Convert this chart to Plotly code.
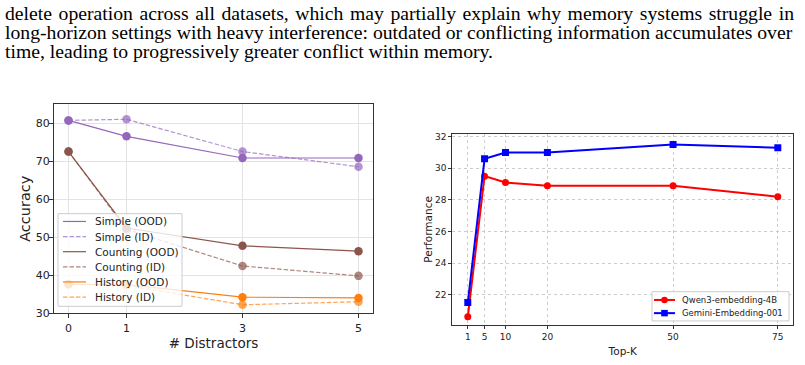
import plotly.graph_objects as go

# ---------------- data ----------------
paragraph_lines = [
    "delete operation across all datasets, which may partially explain why memory systems struggle in",
    "long-horizon settings with heavy interference: outdated or conflicting information accumulates over",
    "time, leading to progressively greater conflict within memory.",
]

distractors = [0, 1, 3, 5]
simple_ood = [80.7, 76.5, 70.8, 70.8]
simple_id = [80.7, 81.0, 72.5, 68.5]
counting_ood = [72.5, 52.4, 47.7, 46.3]
counting_id = [72.5, 52.0, 42.4, 39.8]
history_ood = [37.6, 37.5, 34.2, 34.0]
history_id = [37.6, 37.3, 32.2, 33.0]

topk = [1, 5, 10, 20, 50, 75]
qwen = [20.6, 29.5, 29.1, 28.9, 28.9, 28.2]
gemini = [21.5, 30.6, 31.0, 31.0, 31.5, 31.3]

W, H = 805, 365
def px_x(p): return p / W
def px_y(p): return 1 - p / H

DASH = "4.5px,2px"

fig = go.Figure()

left_series = [
    ("Simple (OOD)", simple_ood, "#9467bd", "solid", 1.0),
    ("Simple (ID)", simple_id, "#9467bd", DASH, 0.7),
    ("Counting (OOD)", counting_ood, "#8c564b", "solid", 1.0),
    ("Counting (ID)", counting_id, "#8c564b", DASH, 0.7),
    ("History (OOD)", history_ood, "#ff7f0e", "solid", 1.0),
    ("History (ID)", history_id, "#ff7f0e", DASH, 0.7),
]
for name, ys, c, dash, op in left_series:
    fig.add_trace(go.Scatter(x=distractors, y=ys, mode="markers",
                             marker=dict(color=c, size=8.5, opacity=op),
                             showlegend=False, hoverinfo="skip",
                             xaxis="x", yaxis="y"))
for name, ys, c, dash, op in left_series:
    fig.add_trace(go.Scatter(x=distractors, y=ys, mode="lines", name=name,
                             line=dict(color=c, width=1.2, dash=dash),
                             opacity=op, showlegend=False, xaxis="x", yaxis="y"))

right_series = [
    ("Qwen3-embedding-4B", qwen, "#ff0000", "circle"),
    ("Gemini-Embedding-001", gemini, "#0000ff", "square"),
]
for name, ys, c, sym in right_series:
    fig.add_trace(go.Scatter(x=topk, y=ys, mode="lines+markers", name=name,
                             line=dict(color=c, width=2),
                             marker=dict(symbol=sym, size=7, color=c),
                             showlegend=False, xaxis="x2", yaxis="y2"))

tick_font_l = dict(family="DejaVu Sans", size=11, color="#222")
tick_font_r = dict(family="DejaVu Sans", size=9, color="#222")

fig.update_layout(
    width=W, height=H, margin=dict(l=0, r=0, t=0, b=0),
    paper_bgcolor="white", plot_bgcolor="white", showlegend=False,
    xaxis=dict(domain=[px_x(54), px_x(373)], range=[-0.25, 5.25],
               tickvals=distractors, ticks="outside", ticklen=4, tickcolor="#333",
               showline=True, mirror=True, linecolor="#333", linewidth=1,
               showgrid=True, gridcolor="#e3e3e3", zeroline=False,
               tickfont=tick_font_l, ticklabelstandoff=1,
               title=dict(text="# Distractors", font=dict(family="DejaVu Sans", size=13.5, color="#222"),
                          standoff=4),
               anchor="y"),
    yaxis=dict(domain=[px_y(319), px_y(105)], range=[30, 84.9],
               tickvals=[30, 40, 50, 60, 70, 80], ticks="outside", ticklen=4, tickcolor="#333",
               showline=True, mirror=True, linecolor="#333", linewidth=1,
               showgrid=True, gridcolor="#e3e3e3", zeroline=False,
               tickfont=tick_font_l, ticklabelstandoff=-3,
               title=dict(text="Accuracy", font=dict(family="DejaVu Sans", size=14.5, color="#222"),
                          standoff=1),
               anchor="x"),
    xaxis2=dict(domain=[px_x(452.3), px_x(793.3)], range=[-2.7, 78.7],
                tickvals=topk, ticks="outside", ticklen=3, tickcolor="#333",
                showline=True, mirror=True, linecolor="#333", linewidth=1,
                showgrid=True, gridcolor="#cccccc", griddash="dot", zeroline=False,
                tickfont=tick_font_r,
                title=dict(text="Top-K", font=dict(family="DejaVu Sans", size=10.5, color="#222"),
                           standoff=6),
                anchor="y2"),
    yaxis2=dict(domain=[px_y(331.3), px_y(135)], range=[20.07, 32.19],
                tickvals=[22, 24, 26, 28, 30, 32], ticks="outside", ticklen=3, tickcolor="#333",
                showline=True, mirror=True, linecolor="#333", linewidth=1,
                showgrid=True, gridcolor="#cccccc", griddash="dot", zeroline=False,
                tickfont=tick_font_r,
                title=dict(text="Performance", font=dict(family="DejaVu Sans", size=10.5, color="#222"),
                           standoff=0),
                anchor="x2"),
)

# ---- manual legend (left) ----
fig.add_shape(type="rect", xref="paper", yref="paper",
              x0=px_x(58), x1=px_x(182), y0=px_y(312), y1=px_y(217),
              fillcolor="rgba(255,255,255,0.8)", line=dict(color="#cccccc", width=1))
row_y = [225, 240.5, 256, 271.5, 287, 302.5]
for (name, ys, c, dash, op), ry in zip(left_series, row_y):
    fig.add_shape(type="line", xref="paper", yref="paper",
                  x0=px_x(63), x1=px_x(86), y0=px_y(ry), y1=px_y(ry),
                  line=dict(color=c, width=1.2, dash=dash), opacity=op)
    fig.add_annotation(text=name, x=px_x(93), y=px_y(ry), xref="paper", yref="paper",
                       xanchor="left", yanchor="middle", showarrow=False,
                       font=dict(family="DejaVu Sans", size=10.5, color="#222"))

# ---- manual legend (right) ----
fig.add_shape(type="rect", xref="paper", yref="paper",
              x0=px_x(652), x1=px_x(789), y0=px_y(327), y1=px_y(297),
              fillcolor="rgba(255,255,255,0.8)", line=dict(color="#cccccc", width=1))
row_y2 = [305.5, 319]
for (name, ys, c, sym), ry in zip(right_series, row_y2):
    fig.add_shape(type="line", xref="paper", yref="paper",
                  x0=px_x(654), x1=px_x(675), y0=px_y(ry), y1=px_y(ry),
                  line=dict(color=c, width=2))
    r = 3.3
    fig.add_shape(type="circle" if sym == "circle" else "rect", xref="paper", yref="paper",
                  x0=px_x(664.5 - r), x1=px_x(664.5 + r), y0=px_y(ry + r), y1=px_y(ry - r),
                  fillcolor=c, line=dict(color=c, width=0))
    fig.add_annotation(text=name, x=px_x(680), y=px_y(ry), xref="paper", yref="paper",
                       xanchor="left", yanchor="middle", showarrow=False,
                       font=dict(family="DejaVu Sans", size=8.5, color="#222"))

# paragraph text; first line widened slightly with hair spaces (justified in reference)
centers = [11.5, 31, 50]
display_lines = [paragraph_lines[0].replace(" ", " \u200a"), paragraph_lines[1], paragraph_lines[2]]
for txt, cy in zip(display_lines, centers):
    fig.add_annotation(text=txt, x=px_x(3), y=px_y(cy), xref="paper", yref="paper",
                       xanchor="left", yanchor="middle", showarrow=False,
                       font=dict(family="Liberation Serif", size=19.7, color="black"))

fig.write_html("out.html")
